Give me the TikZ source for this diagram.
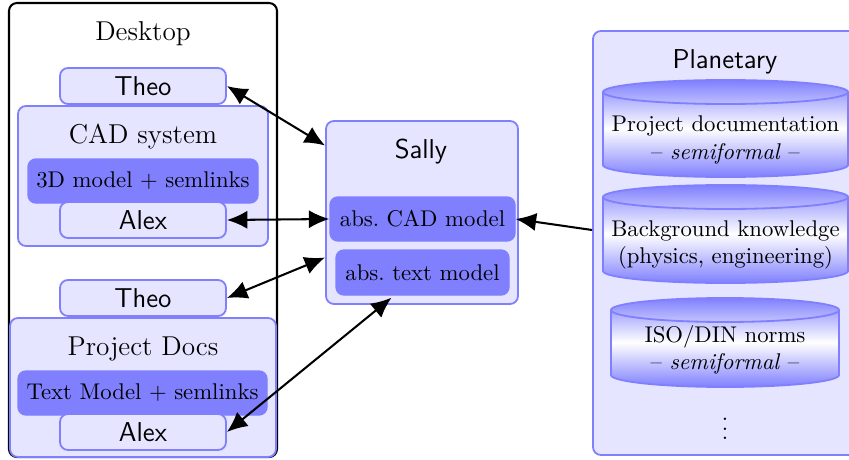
\documentclass[tikz,border=0pt]{standalone}
\usetikzlibrary{arrows.meta,calc}
\tikzset{
  size/.style 2 args={minimum width={#1*0.44pt}, minimum height={#2*0.44pt}},
  lightbox/.style={draw=blue!50, fill=blue!10, line width=0.8pt, rounded corners=3.5pt, inner sep=0pt},
  darkbox/.style={draw=blue!50, fill=blue!50, line width=0.6pt, rounded corners=3.5pt, inner sep=0pt, font=\normalsize},
  person/.style={lightbox, size={166}{36}, font=\large\sffamily},
  grouptitle/.style={font=\large},
  systitle/.style={font=\large\sffamily},
  cyltext/.style={align=center, inner sep=0pt},
  link/.style={line width=0.9pt, {Latex[length=9pt,width=8pt]}-{Latex[length=9pt,width=8pt]}},
  feed/.style={line width=0.9pt, -{Latex[length=9pt,width=8pt]}},
}
% cylinder: left, right, top, bottom
\newcommand\mycyl[4]{%
  \shadedraw[draw=blue!50, line width=0.8pt, top color=blue!50, bottom color=blue!50, middle color=white]
    (#1,#3-12) -- (#1,#4+12)
    arc[start angle=180, end angle=360, x radius={(#2-#1)/2}, y radius=12]
    -- (#2,#3-12)
    arc[start angle=0, end angle=180, x radius={(#2-#1)/2}, y radius=12] -- cycle;
  \draw[blue!50, line width=0.8pt]
    (#1,#3-12) arc[start angle=180, end angle=360, x radius={(#2-#1)/2}, y radius=12];
}
\begin{document}
\begin{tikzpicture}[x=0.44pt, y=0.44pt]
\useasboundingbox (0,0) rectangle (849,459);

% Desktop
\node[draw=black, fill=white, line width=0.9pt, rounded corners=3.5pt, inner sep=0pt,
      size={268}{454}] (desktop) at (143,229) {};
\node[grouptitle] (desktoplbl) at (143,425) {Desktop};

\node[lightbox, size={250}{140}] (cad) at (143,283) {};
\node[person] (theoA) at (143,373) {Theo};
\node[grouptitle] (cadlbl) at (143,322) {CAD system};
\node[darkbox, size={230}{44}] (model3d) at (143,278) {3D model + semlinks};
\node[person] (alexA) at (143,239) {Alex};

\node[lightbox, size={266}{139}] (docs) at (143,71.5) {};
\node[person] (theoB) at (143,161) {Theo};
\node[grouptitle] (docslbl) at (143,110) {Project Docs};
\node[darkbox, size={249}{44}] (textmodel) at (142.5,66) {Text Model + semlinks};
\node[person] (alexB) at (143,27) {Alex};

% Sally
\node[lightbox, size={192}{183}] (sally) at (422,246.5) {};
\node[systitle] (sallylbl) at (421,307) {Sally};
\node[darkbox, size={185}{44}] (abscad) at (422.5,240) {abs.\ CAD model};
\node[darkbox, size={173}{45}] (abstext) at (422.5,186.5) {abs.\ text model};

% Planetary
\node[lightbox, size={277}{424}] (planet) at (731.5,216) {};
\node[systitle] (planetlbl) at (725,397) {Planetary};
\mycyl{603}{848}{379}{282}
\node[cyltext] (projdoc) at (725.5,319) {Project documentation\\– \textit{semiformal} –};
\mycyl{603}{848}{274}{176}
\node[cyltext] (background) at (725.5,214) {Background knowledge\\(physics, engineering)};
\mycyl{611}{839}{161}{72}
\node[cyltext] (norms) at (725,109) {ISO/DIN norms\\– \textit{semiformal} –};
\node (more) at (725,37) {$\vdots$};

% connectors
\draw[link] (theoA.east) -- ($(sally.west)+(0,67)$);
\draw[link] (alexA.east) -- (abscad.west);
\draw[link] (theoB.east) -- ($(sally.west)+(0,-45)$);
\draw[link] (alexB.east) -- ($(abstext.south)+(-31,-2)$);
\draw[feed] ($(planet.west |- background)+(0,15)$) -- (abscad.east);
\end{tikzpicture}
\end{document}
